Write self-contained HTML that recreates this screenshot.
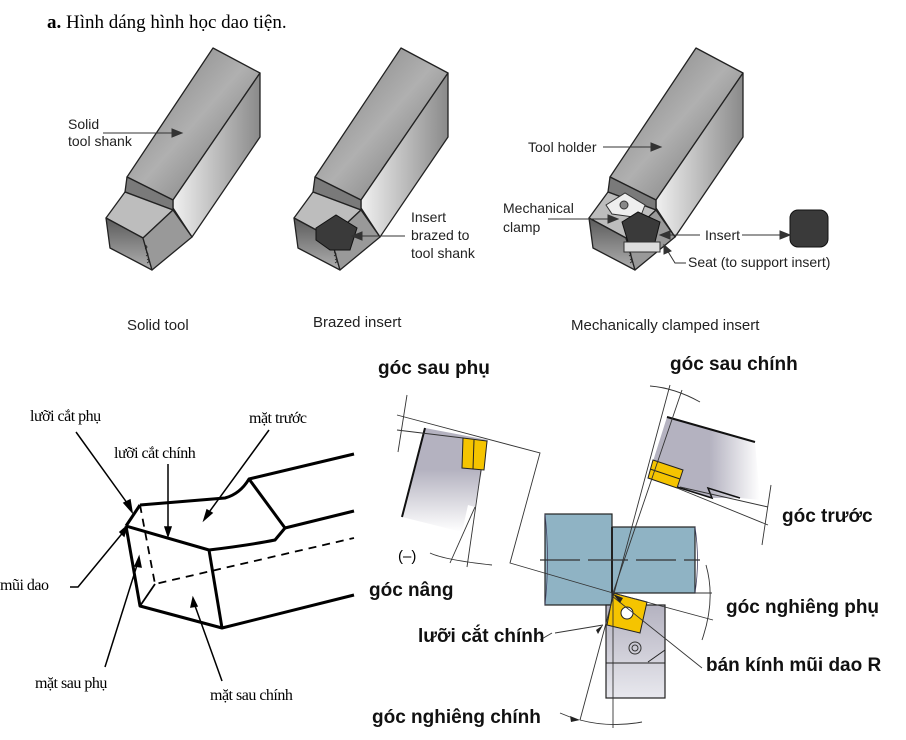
<!DOCTYPE html>
<html><head><meta charset="utf-8"><style>
body{margin:0;background:#fff}
svg{display:block}
.a{font-family:"Liberation Sans",sans-serif;font-size:14px;fill:#222}
.s{font-family:"Liberation Serif",serif;font-size:16px;fill:#000}
.b{font-family:"Liberation Sans",sans-serif;font-size:19px;font-weight:bold;fill:#111}
</style></head><body>
<svg width="906" height="740" viewBox="0 0 906 740" xmlns="http://www.w3.org/2000/svg">
<defs>
<linearGradient id="g1" x1="0" y1="0" x2="1" y2="1"><stop offset="0" stop-color="#7a7a7a"/><stop offset="0.5" stop-color="#b0b0b0"/><stop offset="1" stop-color="#6a6a6a"/></linearGradient>
<linearGradient id="g2" x1="0" y1="0" x2="1" y2="0"><stop offset="0" stop-color="#f0f0f0"/><stop offset="1" stop-color="#8a8a8a"/></linearGradient>
<linearGradient id="g3" x1="0" y1="0" x2="0" y2="1"><stop offset="0" stop-color="#5a5a5a"/><stop offset="1" stop-color="#b0b0b0"/></linearGradient>
<linearGradient id="gL" x1="0" y1="0" x2="0" y2="1"><stop offset="0.4" stop-color="#b4b2c0"/><stop offset="1" stop-color="#fff"/></linearGradient>
<linearGradient id="gR" x1="0" y1="0" x2="1" y2="0"><stop offset="0.55" stop-color="#b4b2c0"/><stop offset="1" stop-color="#fff"/></linearGradient>
<linearGradient id="gB" x1="0" y1="0" x2="0" y2="1"><stop offset="0" stop-color="#b4b2c0"/><stop offset="1" stop-color="#e8e8ee"/></linearGradient>
<g id="tool" stroke="#222" stroke-width="1.3" stroke-linejoin="round">
<polygon points="213,48 260,73 173,200 127,177" fill="url(#g1)"/>
<polygon points="260,73 260,137 192,237 173,208 173,200" fill="url(#g2)"/>
<polygon points="127,177 173,200 173,210 125,192" fill="#7a7a7a"/>
<polygon points="106,218 125,192 173,210 143,238" fill="#bdbdbd"/>
<polygon points="106,218 143,238 152,270 110,248" fill="url(#g3)"/>
<polygon points="143,238 173,210 192,237 152,270" fill="#999"/>
<path d="M145,245 q4,2 0,4 M146,252 q4,2 0,4 M147,259 q4,2 0,4" fill="none" stroke-width="0.8"/>
</g>
</defs>
<text x="47" y="28" style="font-family:'Liberation Serif',serif;font-size:19px"><tspan font-weight="bold">a.</tspan>   Hình dáng hình học dao tiện.</text>

<use href="#tool"/>
<use href="#tool" x="188"/>
<use href="#tool" x="483"/>
<polygon points="316,228 336,215 357,228 350,250 330,250 316,240" fill="#3a3a3a" stroke="#111"/>
<polygon points="606,205 625,193 645,205 640,218 612,214" fill="#eee" stroke="#333"/>
<circle cx="624" cy="205" r="4" fill="#888" stroke="#333"/>
<polygon points="622,222 638,212 660,222 655,242 628,242" fill="#3a3a3a" stroke="#111"/>
<rect x="624" y="242" width="36" height="10" fill="#ddd" stroke="#333"/>
<rect x="790" y="210" width="38" height="37" rx="8" fill="#3a3a3a" stroke="#111"/>

<g stroke="#333" stroke-width="1" fill="#333">
<line x1="103" y1="133" x2="176" y2="133"/><polygon points="182,133 172,129 172,137"/>
<line x1="405" y1="236" x2="356" y2="236"/><polygon points="352,236 362,232 362,240"/>
<line x1="603" y1="147" x2="655" y2="147"/><polygon points="661,147 651,143 651,151"/>
<line x1="548" y1="219" x2="612" y2="219"/><polygon points="618,219 608,215 608,223"/>
<line x1="700" y1="235" x2="665" y2="235"/><polygon points="660,235 670,231 670,239"/>
<line x1="742" y1="235" x2="784" y2="235"/><polygon points="790,235 780,231 780,239"/>
<polyline points="686,263 675,263 667,250" fill="none"/><polygon points="664,245 664,254 671,251"/>
</g>
<g class="a">
<text x="68" y="129">Solid</text><text x="68" y="146">tool shank</text>
<text x="411" y="222">Insert</text><text x="411" y="240">brazed to</text><text x="411" y="258">tool shank</text>
<text x="528" y="152">Tool holder</text>
<text x="503" y="213">Mechanical</text><text x="503" y="232">clamp</text>
<text x="705" y="240">Insert</text>
<text x="688" y="267">Seat (to support insert)</text>
<text x="127" y="330" font-size="15">Solid tool</text>
<text x="313" y="327" font-size="15">Brazed insert</text>
<text x="571" y="330" font-size="15">Mechanically clamped insert</text>
</g>

<g stroke="#000" stroke-width="3" fill="none" stroke-linejoin="round">
<path d="M140,505 L225,498 Q240,494 249,479 L354,454"/>
<path d="M285,528 L354,511"/>
<path d="M249,479 L285,528"/>
<path d="M126,526 L140,505"/>
<path d="M126,526 L209,550 Q250,545 275,540 L285,528"/>
<path d="M126,526 L140,606 L222,628 L354,595"/>
<path d="M209,550 L222,628"/>
</g>
<g stroke="#000" stroke-width="1.8" fill="none" stroke-dasharray="8,6">
<path d="M140,505 L155,584 L354,538"/>
</g>
<line x1="155" y1="584" x2="140" y2="606" stroke="#000" stroke-width="1.8"/>
<g stroke="#000" stroke-width="1.5" fill="#000">
<line x1="76" y1="432" x2="130" y2="507"/><polygon points="132,512 124,503 130,500"/>
<line x1="168" y1="464" x2="168" y2="530"/><polygon points="168,536 165,527 171,527"/>
<line x1="269" y1="430" x2="207" y2="515"/><polygon points="204,520 207,510 212,513"/>
<polyline points="70,587 78,587 125,530" fill="none"/><polygon points="127,526 120,532 124,536"/>
<line x1="105" y1="667" x2="138" y2="562"/><polygon points="139,557 135,566 141,567"/>
<line x1="222" y1="681" x2="194" y2="603"/><polygon points="193,598 191,607 197,606"/>
</g>
<g class="s" style="letter-spacing:-0.5px">
<text x="30" y="421">lưỡi cắt phụ</text>
<text x="114" y="458">lưỡi cắt chính</text>
<text x="249" y="423">mặt trước</text>
<text x="0" y="590">mũi dao</text>
<text x="35" y="688">mặt sau phụ</text>
<text x="210" y="700">mặt sau chính</text>
</g>

<polygon points="425,428 488,440 482,470 475,507 468,505 462,532 402,517" fill="url(#gL)"/>
<line x1="425" y1="428" x2="402" y2="517" stroke="#111" stroke-width="2"/>
<polygon points="463,438 487,441 484,470 462,468" fill="#f5c400" stroke="#222"/>
<line x1="474" y1="440" x2="473" y2="469" stroke="#222"/>
<polygon points="667,417 755,442 760,500 740,498 712,498 677,487 648,477" fill="url(#gR)"/>
<line x1="667" y1="417" x2="755" y2="442" stroke="#111" stroke-width="2"/>
<polyline points="677,487 712,498 708,488 740,498" fill="none" stroke="#111" stroke-width="1.5"/>
<polygon points="653,460 683,470 677,488 648,478" fill="#f5c400" stroke="#222"/>
<line x1="650" y1="469" x2="680" y2="479" stroke="#222"/>
<rect x="545" y="514" width="67" height="91" fill="#8fb3c4" stroke="#222" stroke-width="1.2"/>
<rect x="612" y="527" width="83" height="66" fill="#8fb3c4" stroke="#222" stroke-width="1.2"/>
<path d="M695,527 q5,33 0,66 M545,514 q5,45 0,91" fill="none" stroke="#446" stroke-width="0.8"/>
<line x1="612" y1="527" x2="612" y2="593" stroke="#222" stroke-width="2"/>
<line x1="540" y1="560" x2="700" y2="560" stroke="#333" stroke-width="1.2" stroke-dasharray="40,8"/>
<rect x="606" y="605" width="59" height="93" fill="url(#gB)" stroke="#222" stroke-width="1.2"/>
<line x1="606" y1="663" x2="665" y2="663" stroke="#222"/>
<line x1="648" y1="662" x2="665" y2="650" stroke="#222"/>
<circle cx="635" cy="648" r="6" fill="none" stroke="#333"/><circle cx="635" cy="648" r="3" fill="none" stroke="#333"/>
<polygon points="613,593 647,602 640,633 607,625" fill="#f5c400" stroke="#222"/>
<circle cx="627" cy="613" r="6" fill="#fff" stroke="#222"/>
<g stroke="#333" stroke-width="0.9" fill="none">
<polyline points="397,415 540,453 510,563 613,593"/>
<line x1="397" y1="430" x2="463" y2="438"/>
<line x1="481" y1="470" x2="467" y2="567"/>
<line x1="475" y1="507" x2="450" y2="563"/>
<line x1="407" y1="395" x2="398" y2="452"/>
<line x1="670" y1="385" x2="580" y2="720"/>
<line x1="682" y1="390" x2="613" y2="593"/>
<line x1="680" y1="487" x2="768" y2="507"/>
<line x1="677" y1="488" x2="768" y2="525"/>
<line x1="771" y1="485" x2="762" y2="545"/>
<line x1="613" y1="593" x2="613" y2="728"/>
<line x1="613" y1="593" x2="713" y2="620"/>
<line x1="695" y1="593" x2="712" y2="593"/>
<path d="M580,720 Q610,728 642,722"/>
<path d="M706,565 Q716,600 702,640"/>
<path d="M650,386 Q675,388 700,402"/>
<path d="M430,553 Q445,560 492,565"/>
<line x1="612" y1="596" x2="702" y2="668"/>
<line x1="540" y1="640" x2="552" y2="633"/>
</g>
<g fill="#222">
<polygon points="613,594 620,603 623,598"/>
<polygon points="603,625 596,630 598,634"/>
<polygon points="580,720 570,716 571,722"/>
</g>
<line x1="555" y1="633" x2="603" y2="625" stroke="#333" stroke-width="0.9"/>
<line x1="570" y1="717" x2="560" y2="713" stroke="#333" stroke-width="0.9"/>
<text x="398" y="561" style="font-family:'Liberation Sans',sans-serif;font-size:15px">(–)</text>
<g class="b">
<text x="378" y="374">góc sau phụ</text>
<text x="670" y="370">góc sau chính</text>
<text x="782" y="522">góc trước</text>
<text x="369" y="596">góc nâng</text>
<text x="726" y="613">góc nghiêng phụ</text>
<text x="418" y="642">lưỡi cắt chính</text>
<text x="706" y="671">bán kính mũi dao R</text>
<text x="372" y="723">góc nghiêng chính</text>
</g>
</svg>
</body></html>
